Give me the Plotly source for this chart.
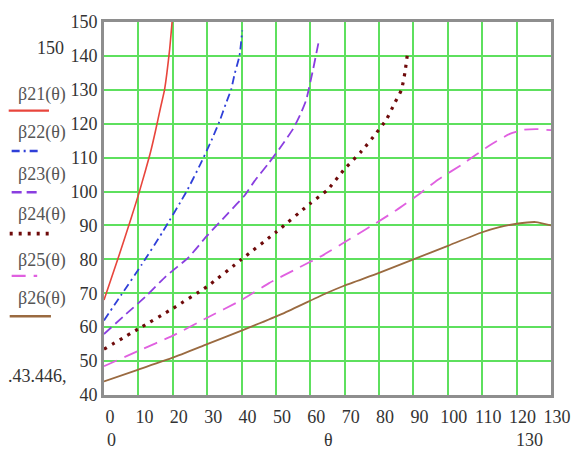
import plotly.graph_objects as go

# ---- data ----
theta21 = [0, 4, 8, 10, 12, 13.5, 15, 16.5, 17.6, 18.3, 19.1, 19.8]
b21 = [68, 80, 92.5, 99, 106, 111.5, 118, 125, 130, 135, 142, 150]

theta22 = [0, 5, 11, 17, 24, 28, 31, 33.7, 35.4, 37, 38, 39.4, 40.2]
b22 = [62, 69.5, 78.5, 88, 100, 108, 114.5, 121, 125.8, 130.2, 134.7, 140, 147.5]

theta23 = [0, 6, 12.7, 18, 24.6, 30, 36, 41, 43.7, 48, 52, 55, 57, 58.8, 60.8, 62.6]
b23 = [58, 63.5, 69.6, 75, 80.6, 87, 93.5, 99, 103, 108.5, 114, 118.5, 122.5, 127, 136, 145]

theta24 = [0, 10, 20, 30, 40, 50, 60, 65, 70, 75, 79.3, 82, 84.5, 86.5, 87.5, 88.3]
b24 = [53.5, 59.5, 65.5, 72, 80, 88, 96.5, 100.5, 106.7, 112, 117.4, 121, 126, 130, 135, 141]

theta25 = [0, 10, 20, 30, 40, 48, 56, 64, 71, 78, 85, 92, 97, 104.6, 112, 118, 122, 126, 130]
b25 = [48.5, 53, 57.5, 62.8, 68, 73, 77.2, 81.4, 85.7, 90, 94.5, 99.5, 103.4, 108.3, 113.5, 117, 118.2, 118.4, 118.1]

theta26 = [0, 10, 20, 30, 40, 52, 64.6, 70, 80, 90, 100, 110, 115, 120, 125.6, 130]
b26 = [44, 47.5, 51, 55, 59, 64, 70, 72.3, 76, 80, 84, 88, 89.5, 90.5, 91, 90]

names = ["β21(θ)", "β22(θ)", "β23(θ)", "β24(θ)", "β25(θ)", "β26(θ)"]
colors = ["#e8453c", "#2f3fd8", "#8a3ee0", "#6e0a0a", "#e060e0", "#9a6a40"]
dashes = ["solid", "8px,4px,2px,4px", "10px,5px", "3px,6px", "14px,8px", "solid"]
widths = [1.6, 1.8, 1.8, 3.2, 1.8, 1.8]

xticks = list(range(0, 131, 10))
yticks = list(range(40, 151, 10))

series = [(theta21, b21), (theta22, b22), (theta23, b23),
          (theta24, b24), (theta25, b25), (theta26, b26)]

W, H = 583, 461
L, R, T, B = 104, 24, 16, 66
pw, ph = W - L - R, H - T - B


def px(x):
    return (x - L) / pw


def py(y):
    return (H - B - y) / ph


fig = go.Figure()
for (tx, ty), n, c, d, w in zip(series, names, colors, dashes, widths):
    fig.add_trace(go.Scatter(x=tx, y=ty, mode="lines", name=n,
                             line=dict(color=c, dash=d, width=w, shape="spline", smoothing=0.5),
                             showlegend=False))

FS = 18
font = dict(family="Liberation Serif", size=FS, color="#333333")
axis_common = dict(showgrid=True, gridcolor="#5ee05e", gridwidth=1.8,
                   showline=True, linecolor="#8e8e8e", linewidth=3, mirror=True,
                   zeroline=False, ticks="", tickfont=font)

fig.update_xaxes(range=[0, 130], tickvals=xticks, ticktext=[str(v) for v in xticks],
                 ticklabelshift=6, ticklabelstandoff=3, **axis_common)
fig.update_yaxes(range=[40, 150], tickvals=yticks, ticktext=[str(v) for v in yticks],
                 ticklabelstandoff=0, **axis_common)

annotations = []


def ann(text, x, y, size=FS, color="#333333"):
    annotations.append(dict(text=text, x=px(x), y=py(y), xref="paper", yref="paper",
                            showarrow=False, xanchor="center", yanchor="middle",
                            font=dict(family="Liberation Serif", size=size, color=color)))


ann("150", 50, 42)
ann(".43.446,", 36, 376)
ann("0", 112, 441)
ann("θ", 333, 441)
ann("130", 537, 441)

legend_text_y = [90, 128, 171, 212, 258, 297]
legend_line_y = [106, 147, 189, 231, 274, 315]
legend_line_x = [(7, 48), (10, 37), (10, 36), (8, 50), (10, 36), (8, 50)]
shapes = []
for n, c, d, w, ty, ly, (x0, x1) in zip(names, colors, dashes, widths,
                                        legend_text_y, legend_line_y, legend_line_x):
    ann(n, 41, ty, color="#555555")
    shapes.append(dict(type="line", xref="paper", yref="paper",
                       x0=px(x0), x1=px(x1), y0=py(ly), y1=py(ly),
                       line=dict(color=c, dash=d, width=w + 0.6)))

fig.update_layout(width=W, height=H, autosize=False,
                  margin=dict(l=L, r=R, t=T, b=B),
                  paper_bgcolor="white", plot_bgcolor="white",
                  annotations=annotations, shapes=shapes, showlegend=False)

fig.write_html("out.html")
